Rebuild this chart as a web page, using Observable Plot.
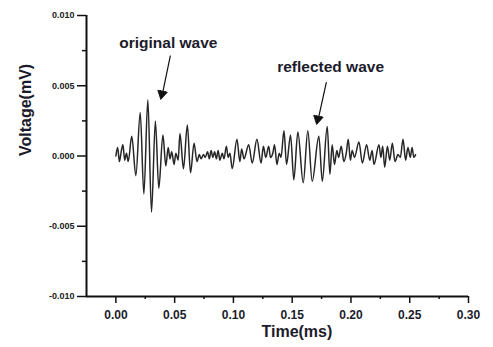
<!DOCTYPE html>
<html>
<head>
<meta charset="utf-8">
<script src="https://cdn.jsdelivr.net/npm/d3@7"></script>
<script src="https://cdn.jsdelivr.net/npm/@observablehq/plot@0.6"></script>
<style>
  html, body { margin: 0; padding: 0; background: #fff; }
  #chart svg { display: block; }
</style>
</head>
<body>
<div id="chart"></div>
<script>
// Time (ms) of each sample
const times = [
  0.000, 0.0015, 0.0030, 0.0045, 0.0060, 0.0075, 0.0090, 0.0105, 0.0135, 0.0170,
  0.0207, 0.0238, 0.0272, 0.0303, 0.0336, 0.0365, 0.0400, 0.0425, 0.0445, 0.0460,
  0.0475, 0.0495, 0.0510, 0.0530, 0.0545, 0.0575, 0.0608, 0.0635, 0.0665, 0.0690,
  0.0710, 0.0725, 0.0745, 0.0760, 0.0780, 0.0795, 0.0810, 0.0825, 0.0840, 0.0855,
  0.0870, 0.0885, 0.0905, 0.0920, 0.0940, 0.0955, 0.0970, 0.0990, 0.1030, 0.1055,
  0.1070, 0.1090, 0.1130, 0.1160, 0.1200, 0.1235, 0.1255, 0.1275, 0.1300, 0.1315,
  0.1335, 0.1350, 0.1370, 0.1390, 0.1405, 0.1430, 0.1452, 0.1486, 0.1514, 0.1548,
  0.1594, 0.1633, 0.1670, 0.1727, 0.1756, 0.1798, 0.1821, 0.1840, 0.1860, 0.1880,
  0.1895, 0.1917, 0.1940, 0.1960, 0.1977, 0.1995, 0.2010, 0.2030, 0.2068, 0.2097,
  0.2133, 0.2160, 0.2180, 0.2196, 0.2238, 0.2255, 0.2270, 0.2287, 0.2310, 0.2330,
  0.2352, 0.2375, 0.2400, 0.2420, 0.2443, 0.2465, 0.2485, 0.2505, 0.2520, 0.2535,
  0.2550
];
// Voltage (mV) of each sample
const volts = [
  0.0000, 0.0006, -0.0004, 0.0003, 0.0008, -0.0003, 0.0002, -0.0004, 0.0014, -0.0014,
  0.0031, -0.0027, 0.0040, -0.0040, 0.0025, -0.0023, 0.0015, -0.0007, 0.0006, -0.0002,
  0.0003, -0.0006, 0.0002, -0.0003, 0.0016, -0.0009, 0.0022, -0.0012, 0.0009, -0.0004,
  0.0001, -0.0002, 0.0001, -0.0001, 0.0003, -0.0002, 0.0004, -0.0001, 0.0003, -0.0002,
  0.0004, -0.0003, 0.0002, -0.0002, 0.0007, -0.0001, 0.0002, -0.0009, 0.0012, -0.0004,
  0.0005, -0.0002, 0.0008, -0.0005, 0.0012, -0.0005, 0.0007, -0.0001, 0.0007, -0.0001,
  0.0002, 0.0008, -0.0006, 0.0002, -0.0001, 0.0018, -0.0006, 0.0015, -0.0017, 0.0017,
  -0.0019, 0.0018, -0.0018, 0.0014, -0.0018, 0.0021, -0.0013, 0.0008, -0.0006, 0.0004,
  -0.0001, 0.0007, -0.0004, 0.0002, 0.0012, -0.0003, 0.0004, -0.0001, 0.0010, -0.0005,
  0.0008, -0.0003, 0.0004, -0.0006, 0.0008, -0.0001, 0.0007, -0.0008, 0.0007, -0.0003,
  0.0009, -0.0004, 0.0001, -0.0001, 0.0012, -0.0003, 0.0006, -0.0001, 0.0006, -0.0001,
  0.0001
];
const xMajorTicks = [0.00, 0.05, 0.10, 0.15, 0.20, 0.25, 0.30];
const xMinorTicks = [0.025, 0.075, 0.125, 0.175, 0.225, 0.275];
const yMajorTicks = [-0.010, -0.005, 0.000, 0.005, 0.010];
const yMinorTicks = [-0.0075, -0.0025, 0.0025, 0.0075];
const labelTexts = ["original wave", "reflected wave"];
const labelTimes = [0.0446, 0.1827];
const labelVolts = [0.00806, 0.00636];
const arrowTimeStart = [0.0463, 0.1790];
const arrowVoltStart = [0.00712, 0.00522];
const arrowTimeEnd = [0.0392, 0.1718];
const arrowVoltEnd = [0.00427, 0.00249];
const xTitle = "Time(ms)";
const yTitle = "Voltage(mV)";

const wave = times.map((t, i) => ({t, v: volts[i]}));
const labels = labelTexts.map((s, i) => ({s, t: labelTimes[i], v: labelVolts[i]}));
const arrows = arrowTimeStart.map((t, i) => ({
  t1: t, v1: arrowVoltStart[i], t2: arrowTimeEnd[i], v2: arrowVoltEnd[i]
}));

const font = "'Liberation Sans', Arial, sans-serif";
const ink = "#1b1b2b";

const chart = Plot.plot({
  width: 493,
  height: 347,
  marginLeft: 86,
  marginRight: 25,
  marginTop: 15,
  marginBottom: 51,
  style: {fontFamily: font, background: "#fff", color: ink},
  x: {domain: [-0.025, 0.30]},
  y: {domain: [-0.010, 0.010]},
  marks: [
    Plot.axisX(xMajorTicks, {
      tickSize: 7, tickPadding: 7, strokeWidth: 1.5, stroke: "#111",
      tickFormat: d => d.toFixed(2), fontSize: 12, fontWeight: "bold", fill: ink, label: null
    }),
    Plot.axisX(xMinorTicks, {tickSize: 3, strokeWidth: 1.5, stroke: "#111", tickFormat: () => "", label: null}),
    Plot.axisY(yMajorTicks, {
      tickSize: 9, tickPadding: 3, strokeWidth: 1.5, stroke: "#111",
      tickFormat: d => d.toFixed(3), fontSize: 9, fontWeight: "bold", fill: "#222", label: null
    }),
    Plot.axisY(yMinorTicks, {tickSize: 4, strokeWidth: 1.5, stroke: "#111", tickFormat: () => "", label: null}),
    Plot.ruleY([-0.010], {stroke: "#111", strokeWidth: 2}),
    Plot.ruleX([-0.025], {stroke: "#111", strokeWidth: 2}),
    Plot.line(wave, {x: "t", y: "v", stroke: "#262626", strokeWidth: 1.5, curve: "monotone-x"}),
    Plot.text(labels, {x: "t", y: "v", text: "s", fontSize: 15.5, fontWeight: "bold", fill: ink}),
    Plot.arrow(arrows, {x1: "t1", y1: "v1", x2: "t2", y2: "v2", stroke: "#111", strokeWidth: 1.2, headLength: 7, headAngle: 50}),
    Plot.dot(arrows, {x: "t2", y: "v2", symbol: "triangle", r: 3.6, fill: "#111", stroke: "#111", strokeWidth: 0.8, rotate: 192, dy: -2}),
    Plot.text([xTitle], {x: 0.154, frameAnchor: "bottom", dy: 40, text: d => d, fontSize: 16, fontWeight: "bold", fill: ink}),
    Plot.text([yTitle], {frameAnchor: "left", dx: -61, rotate: -90, text: d => d, fontSize: 16, fontWeight: "bold", fill: ink})
  ]
});
document.getElementById("chart").appendChild(chart);
</script>
</body>
</html>
